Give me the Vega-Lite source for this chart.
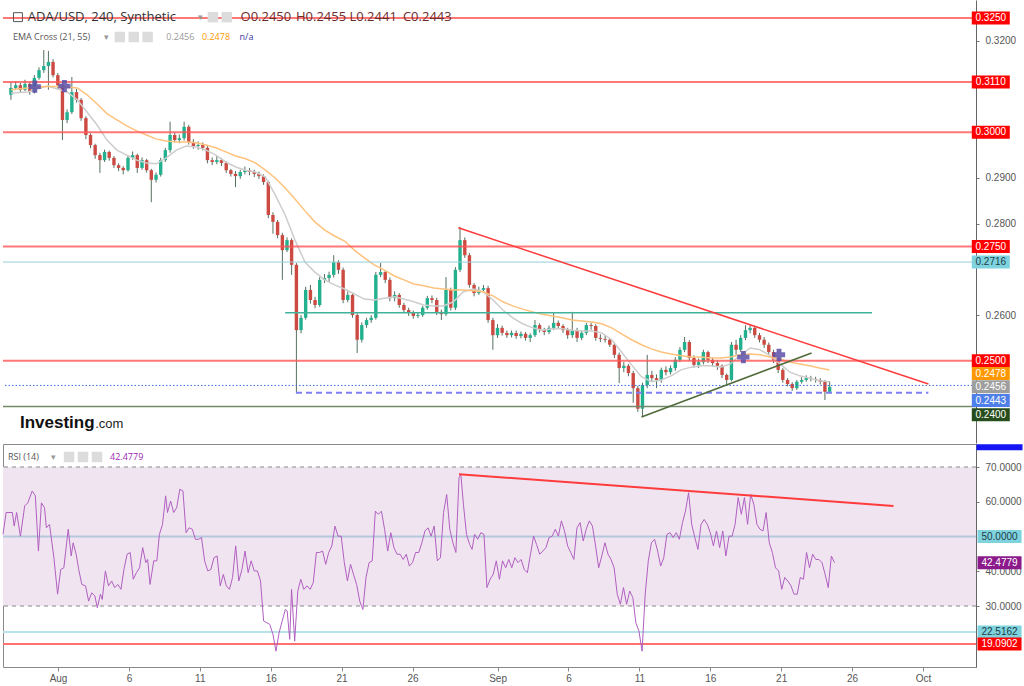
{
"$schema":"https://vega.github.io/schema/vega-lite/v6.json",
"padding":0,
"spacing":0,
"background":"#ffffff",
"config":{"view":{"stroke":null},"font":"Liberation Sans","axis":{"grid":false,"title":null}},
"datasets":{
"candles":[
{"d":-3.67,"o":0.3082,"h":0.311,"l":0.3071,"c":0.3097},
{"d":-3.33,"o":0.3097,"h":0.3112,"l":0.3092,"c":0.3103},
{"d":-3,"o":0.3103,"h":0.3108,"l":0.3088,"c":0.3093},
{"d":-2.67,"o":0.3093,"h":0.3115,"l":0.309,"c":0.3106},
{"d":-2.33,"o":0.3106,"h":0.311,"l":0.3082,"c":0.3088},
{"d":-2,"o":0.3088,"h":0.3125,"l":0.3085,"c":0.3119},
{"d":-1.67,"o":0.3119,"h":0.3142,"l":0.3115,"c":0.3136},
{"d":-1.33,"o":0.3136,"h":0.318,"l":0.313,"c":0.3145},
{"d":-1,"o":0.3145,"h":0.3178,"l":0.3093,"c":0.3154},
{"d":-0.67,"o":0.3154,"h":0.316,"l":0.312,"c":0.3125},
{"d":-0.33,"o":0.3125,"h":0.313,"l":0.3095,"c":0.3103},
{"d":0,"o":0.3103,"h":0.3108,"l":0.2983,"c":0.3027},
{"d":0.33,"o":0.3027,"h":0.305,"l":0.302,"c":0.3044},
{"d":0.67,"o":0.3044,"h":0.3121,"l":0.304,"c":0.3088},
{"d":1,"o":0.3088,"h":0.3095,"l":0.3065,"c":0.3071},
{"d":1.33,"o":0.3071,"h":0.3075,"l":0.3025,"c":0.3031},
{"d":1.67,"o":0.3031,"h":0.3035,"l":0.2985,"c":0.2994},
{"d":2,"o":0.2994,"h":0.2998,"l":0.2965,"c":0.2972},
{"d":2.33,"o":0.2972,"h":0.2975,"l":0.2942,"c":0.295},
{"d":2.67,"o":0.295,"h":0.2955,"l":0.2911,"c":0.2939},
{"d":3,"o":0.2939,"h":0.2962,"l":0.2935,"c":0.2957},
{"d":3.33,"o":0.2957,"h":0.296,"l":0.2938,"c":0.2944},
{"d":3.67,"o":0.2944,"h":0.2948,"l":0.2922,"c":0.2928},
{"d":4,"o":0.2928,"h":0.2932,"l":0.2915,"c":0.2922},
{"d":4.33,"o":0.2922,"h":0.2926,"l":0.2908,"c":0.2917},
{"d":4.67,"o":0.2917,"h":0.295,"l":0.2914,"c":0.2944},
{"d":5,"o":0.2944,"h":0.2958,"l":0.294,"c":0.295},
{"d":5.33,"o":0.295,"h":0.2953,"l":0.2911,"c":0.2922},
{"d":5.67,"o":0.2922,"h":0.2945,"l":0.2918,"c":0.2939},
{"d":6,"o":0.2939,"h":0.2942,"l":0.2912,"c":0.2917},
{"d":6.33,"o":0.2917,"h":0.292,"l":0.2847,"c":0.2896},
{"d":6.67,"o":0.2896,"h":0.2912,"l":0.289,"c":0.2907},
{"d":7,"o":0.2907,"h":0.2944,"l":0.2903,"c":0.2939},
{"d":7.33,"o":0.2939,"h":0.2966,"l":0.2935,"c":0.2961},
{"d":7.67,"o":0.2961,"h":0.3023,"l":0.2955,"c":0.2994},
{"d":8,"o":0.2994,"h":0.3,"l":0.2978,"c":0.2983},
{"d":8.33,"o":0.2983,"h":0.2995,"l":0.2976,"c":0.2987},
{"d":8.67,"o":0.2987,"h":0.3023,"l":0.2982,"c":0.3012},
{"d":9,"o":0.3012,"h":0.3016,"l":0.2973,"c":0.2979},
{"d":9.33,"o":0.2979,"h":0.2985,"l":0.2964,"c":0.297},
{"d":9.67,"o":0.297,"h":0.298,"l":0.2962,"c":0.2972},
{"d":10,"o":0.2972,"h":0.2978,"l":0.296,"c":0.2966},
{"d":10.33,"o":0.2966,"h":0.297,"l":0.2932,"c":0.2939},
{"d":10.67,"o":0.2939,"h":0.2945,"l":0.2928,"c":0.2935},
{"d":11,"o":0.2935,"h":0.2948,"l":0.293,"c":0.2939},
{"d":11.33,"o":0.2939,"h":0.2944,"l":0.2926,"c":0.2933},
{"d":11.67,"o":0.2933,"h":0.2937,"l":0.2911,"c":0.2917},
{"d":12,"o":0.2917,"h":0.292,"l":0.2903,"c":0.2909},
{"d":12.33,"o":0.2909,"h":0.2915,"l":0.288,"c":0.2904},
{"d":12.67,"o":0.2904,"h":0.2918,"l":0.2898,"c":0.2913},
{"d":13,"o":0.2913,"h":0.2925,"l":0.2908,"c":0.2917},
{"d":13.33,"o":0.2917,"h":0.2922,"l":0.2906,"c":0.2913},
{"d":13.67,"o":0.2913,"h":0.2918,"l":0.2902,"c":0.2909},
{"d":14,"o":0.2909,"h":0.2914,"l":0.2898,"c":0.2904},
{"d":14.33,"o":0.2904,"h":0.2908,"l":0.2885,"c":0.2891},
{"d":14.67,"o":0.2891,"h":0.2894,"l":0.2812,"c":0.2819},
{"d":15,"o":0.2819,"h":0.2825,"l":0.2778,"c":0.2804},
{"d":15.33,"o":0.2804,"h":0.2808,"l":0.2768,"c":0.2775},
{"d":15.67,"o":0.2775,"h":0.278,"l":0.2677,"c":0.2742},
{"d":16,"o":0.2742,"h":0.277,"l":0.2738,"c":0.2764},
{"d":16.33,"o":0.2764,"h":0.2768,"l":0.2688,"c":0.271},
{"d":16.67,"o":0.271,"h":0.2714,"l":0.243,"c":0.2567},
{"d":17,"o":0.2567,"h":0.26,"l":0.256,"c":0.2594},
{"d":17.33,"o":0.2594,"h":0.2662,"l":0.259,"c":0.2655},
{"d":17.67,"o":0.2655,"h":0.2666,"l":0.2625,"c":0.2633},
{"d":18,"o":0.2633,"h":0.264,"l":0.2615,"c":0.2622},
{"d":18.33,"o":0.2622,"h":0.2683,"l":0.2618,"c":0.2677},
{"d":18.67,"o":0.2677,"h":0.269,"l":0.267,"c":0.2681},
{"d":19,"o":0.2681,"h":0.2695,"l":0.2672,"c":0.2688},
{"d":19.33,"o":0.2688,"h":0.2731,"l":0.2682,"c":0.2716},
{"d":19.67,"o":0.2716,"h":0.272,"l":0.269,"c":0.2699},
{"d":20,"o":0.2699,"h":0.2704,"l":0.2626,"c":0.2633},
{"d":20.33,"o":0.2633,"h":0.2652,"l":0.2628,"c":0.2644},
{"d":20.67,"o":0.2644,"h":0.2648,"l":0.2594,"c":0.26},
{"d":21,"o":0.26,"h":0.2604,"l":0.2517,"c":0.2546},
{"d":21.33,"o":0.2546,"h":0.2584,"l":0.254,"c":0.2578},
{"d":21.67,"o":0.2578,"h":0.2594,"l":0.2572,"c":0.2589},
{"d":22,"o":0.2589,"h":0.26,"l":0.2583,"c":0.2594},
{"d":22.33,"o":0.2594,"h":0.2694,"l":0.259,"c":0.2688},
{"d":22.67,"o":0.2688,"h":0.2714,"l":0.2683,"c":0.2694},
{"d":23,"o":0.2694,"h":0.2698,"l":0.267,"c":0.2677},
{"d":23.33,"o":0.2677,"h":0.2682,"l":0.263,"c":0.2637},
{"d":23.67,"o":0.2637,"h":0.2652,"l":0.263,"c":0.2644},
{"d":24,"o":0.2644,"h":0.2648,"l":0.2616,"c":0.2622},
{"d":24.33,"o":0.2622,"h":0.2627,"l":0.2605,"c":0.2611},
{"d":24.67,"o":0.2611,"h":0.2616,"l":0.2598,"c":0.2605},
{"d":25,"o":0.2605,"h":0.261,"l":0.2592,"c":0.2598},
{"d":25.33,"o":0.2598,"h":0.2606,"l":0.2594,"c":0.26},
{"d":25.67,"o":0.26,"h":0.262,"l":0.2596,"c":0.2616},
{"d":26,"o":0.2616,"h":0.2642,"l":0.2612,"c":0.2637},
{"d":26.33,"o":0.2637,"h":0.2643,"l":0.2626,"c":0.2633},
{"d":26.67,"o":0.2633,"h":0.2638,"l":0.26,"c":0.2607},
{"d":27,"o":0.2607,"h":0.2612,"l":0.2589,"c":0.2602},
{"d":27.33,"o":0.2602,"h":0.2683,"l":0.2598,"c":0.2655},
{"d":27.67,"o":0.2655,"h":0.266,"l":0.261,"c":0.2616},
{"d":28,"o":0.2616,"h":0.2705,"l":0.2611,"c":0.2699},
{"d":28.33,"o":0.2699,"h":0.2793,"l":0.2694,"c":0.2764},
{"d":28.67,"o":0.2764,"h":0.277,"l":0.2725,"c":0.2731},
{"d":29,"o":0.2731,"h":0.2736,"l":0.266,"c":0.2666},
{"d":29.33,"o":0.2666,"h":0.267,"l":0.2641,"c":0.2648},
{"d":29.67,"o":0.2648,"h":0.2662,"l":0.2644,"c":0.2655},
{"d":30,"o":0.2655,"h":0.2666,"l":0.265,"c":0.2659},
{"d":30.33,"o":0.2659,"h":0.2664,"l":0.2583,"c":0.2589},
{"d":30.67,"o":0.2589,"h":0.2594,"l":0.2524,"c":0.2556},
{"d":31,"o":0.2556,"h":0.258,"l":0.255,"c":0.2572},
{"d":31.33,"o":0.2572,"h":0.2577,"l":0.2555,"c":0.2561},
{"d":31.67,"o":0.2561,"h":0.2566,"l":0.255,"c":0.2556},
{"d":32,"o":0.2556,"h":0.2566,"l":0.2551,"c":0.2561},
{"d":32.33,"o":0.2561,"h":0.2566,"l":0.2548,"c":0.2554},
{"d":32.67,"o":0.2554,"h":0.2564,"l":0.2549,"c":0.2559},
{"d":33,"o":0.2559,"h":0.2563,"l":0.2544,"c":0.255},
{"d":33.33,"o":0.255,"h":0.256,"l":0.2541,"c":0.2556},
{"d":33.67,"o":0.2556,"h":0.2589,"l":0.2552,"c":0.2578},
{"d":34,"o":0.2578,"h":0.2582,"l":0.2562,"c":0.2567},
{"d":34.33,"o":0.2567,"h":0.2572,"l":0.2556,"c":0.2563},
{"d":34.67,"o":0.2563,"h":0.2577,"l":0.2558,"c":0.2572},
{"d":35,"o":0.2572,"h":0.2605,"l":0.2567,"c":0.2583},
{"d":35.33,"o":0.2583,"h":0.2588,"l":0.257,"c":0.2576},
{"d":35.67,"o":0.2576,"h":0.258,"l":0.2561,"c":0.2567},
{"d":36,"o":0.2567,"h":0.2572,"l":0.2548,"c":0.2556},
{"d":36.33,"o":0.2556,"h":0.2607,"l":0.255,"c":0.2567},
{"d":36.67,"o":0.2567,"h":0.2572,"l":0.2541,"c":0.255},
{"d":37,"o":0.255,"h":0.2566,"l":0.2545,"c":0.2561},
{"d":37.33,"o":0.2561,"h":0.2583,"l":0.2556,"c":0.2578},
{"d":37.67,"o":0.2578,"h":0.2583,"l":0.2568,"c":0.2576},
{"d":38,"o":0.2576,"h":0.258,"l":0.2544,"c":0.255},
{"d":38.33,"o":0.255,"h":0.2558,"l":0.2541,"c":0.2548},
{"d":38.67,"o":0.2548,"h":0.2556,"l":0.254,"c":0.2546},
{"d":39,"o":0.2546,"h":0.255,"l":0.253,"c":0.2535},
{"d":39.33,"o":0.2535,"h":0.254,"l":0.2506,"c":0.2513},
{"d":39.67,"o":0.2513,"h":0.2518,"l":0.2451,"c":0.2484},
{"d":40,"o":0.2484,"h":0.2497,"l":0.2475,"c":0.2489},
{"d":40.33,"o":0.2489,"h":0.2493,"l":0.2466,"c":0.2473},
{"d":40.67,"o":0.2473,"h":0.2478,"l":0.2408,"c":0.244},
{"d":41,"o":0.244,"h":0.2445,"l":0.2388,"c":0.2395},
{"d":41.33,"o":0.2395,"h":0.2452,"l":0.2377,"c":0.2447},
{"d":41.67,"o":0.2447,"h":0.2513,"l":0.244,"c":0.2469},
{"d":42,"o":0.2469,"h":0.2478,"l":0.2455,"c":0.2462},
{"d":42.33,"o":0.2462,"h":0.247,"l":0.244,"c":0.2458},
{"d":42.67,"o":0.2458,"h":0.2485,"l":0.2452,"c":0.248},
{"d":43,"o":0.248,"h":0.2488,"l":0.2468,"c":0.2475},
{"d":43.33,"o":0.2475,"h":0.249,"l":0.247,"c":0.2484},
{"d":43.67,"o":0.2484,"h":0.2508,"l":0.2478,"c":0.2502},
{"d":44,"o":0.2502,"h":0.253,"l":0.2497,"c":0.2524},
{"d":44.33,"o":0.2524,"h":0.2552,"l":0.2519,"c":0.2541},
{"d":44.67,"o":0.2541,"h":0.2545,"l":0.25,"c":0.2506},
{"d":45,"o":0.2506,"h":0.2512,"l":0.2485,"c":0.2491},
{"d":45.33,"o":0.2491,"h":0.2505,"l":0.2484,"c":0.2497},
{"d":45.67,"o":0.2497,"h":0.2524,"l":0.2492,"c":0.2519},
{"d":46,"o":0.2519,"h":0.2522,"l":0.2495,"c":0.2502},
{"d":46.33,"o":0.2502,"h":0.2508,"l":0.2488,"c":0.2495},
{"d":46.67,"o":0.2495,"h":0.25,"l":0.248,"c":0.2489},
{"d":47,"o":0.2489,"h":0.2492,"l":0.2462,"c":0.2469},
{"d":47.33,"o":0.2469,"h":0.2472,"l":0.2447,"c":0.2458},
{"d":47.67,"o":0.2458,"h":0.2541,"l":0.2455,"c":0.2535},
{"d":48,"o":0.2535,"h":0.2546,"l":0.2513,"c":0.2524},
{"d":48.33,"o":0.2524,"h":0.2556,"l":0.2519,"c":0.255},
{"d":48.67,"o":0.255,"h":0.2578,"l":0.2545,"c":0.2567},
{"d":49,"o":0.2567,"h":0.2578,"l":0.256,"c":0.2572},
{"d":49.33,"o":0.2572,"h":0.2575,"l":0.255,"c":0.2556},
{"d":49.67,"o":0.2556,"h":0.2561,"l":0.254,"c":0.2546},
{"d":50,"o":0.2546,"h":0.2552,"l":0.2528,"c":0.2535},
{"d":50.33,"o":0.2535,"h":0.254,"l":0.2513,"c":0.2519},
{"d":50.67,"o":0.2519,"h":0.2524,"l":0.2495,"c":0.2502},
{"d":51,"o":0.2502,"h":0.2506,"l":0.2473,"c":0.248},
{"d":51.33,"o":0.248,"h":0.2484,"l":0.2452,"c":0.2458},
{"d":51.67,"o":0.2458,"h":0.2462,"l":0.2444,"c":0.2449},
{"d":52,"o":0.2449,"h":0.2453,"l":0.2434,"c":0.244},
{"d":52.33,"o":0.244,"h":0.2458,"l":0.2436,"c":0.2454},
{"d":52.67,"o":0.2454,"h":0.2464,"l":0.245,"c":0.2458},
{"d":53,"o":0.2458,"h":0.2468,"l":0.2454,"c":0.2462},
{"d":53.33,"o":0.2462,"h":0.2467,"l":0.2455,"c":0.246},
{"d":53.67,"o":0.246,"h":0.2465,"l":0.2452,"c":0.2458},
{"d":54,"o":0.2458,"h":0.2462,"l":0.2448,"c":0.2454},
{"d":54.33,"o":0.2454,"h":0.2458,"l":0.2414,"c":0.2432},
{"d":54.67,"o":0.2432,"h":0.2455,"l":0.2428,"c":0.2443}
],
"ema":[
{"d":-3.67,"e1":0.3086,"e2":0.3093},{"d":-2.47,"e1":0.3088,"e2":0.3097},{"d":-1.06,"e1":0.3101,"e2":0.3101},{"d":0.35,"e1":0.3088,"e2":0.3099},
{"d":1.06,"e1":0.3071,"e2":0.3097},{"d":1.76,"e1":0.3044,"e2":0.3082},{"d":2.47,"e1":0.3016,"e2":0.3062},{"d":3.17,"e1":0.2983,"e2":0.3041},
{"d":3.88,"e1":0.2961,"e2":0.3027},{"d":4.58,"e1":0.295,"e2":0.3014},{"d":5.29,"e1":0.2939,"e2":0.3003},{"d":5.99,"e1":0.2933,"e2":0.2994},
{"d":6.7,"e1":0.2931,"e2":0.2985},{"d":7.4,"e1":0.2944,"e2":0.2981},{"d":8.11,"e1":0.2961,"e2":0.2979},{"d":8.82,"e1":0.297,"e2":0.2979},
{"d":9.52,"e1":0.2968,"e2":0.2977},{"d":10.23,"e1":0.2961,"e2":0.2972},{"d":10.93,"e1":0.295,"e2":0.2966},{"d":11.64,"e1":0.2935,"e2":0.2957},
{"d":12.34,"e1":0.2924,"e2":0.2948},{"d":13.05,"e1":0.2917,"e2":0.2942},{"d":13.75,"e1":0.2913,"e2":0.2933},{"d":14.46,"e1":0.2902,"e2":0.2917},
{"d":15.16,"e1":0.2863,"e2":0.29},{"d":15.87,"e1":0.2819,"e2":0.2878},{"d":16.57,"e1":0.2764,"e2":0.2854},{"d":17.28,"e1":0.2716,"e2":0.2828},
{"d":17.98,"e1":0.2694,"e2":0.2804},{"d":18.69,"e1":0.2677,"e2":0.2786},{"d":19.39,"e1":0.2666,"e2":0.2773},{"d":20.1,"e1":0.2657,"e2":0.2762},
{"d":20.8,"e1":0.2646,"e2":0.2742},{"d":21.51,"e1":0.2635,"e2":0.2725},{"d":22.21,"e1":0.2633,"e2":0.271},{"d":22.92,"e1":0.2637,"e2":0.2699},
{"d":23.62,"e1":0.264,"e2":0.2686},{"d":24.33,"e1":0.2635,"e2":0.2677},{"d":25.04,"e1":0.2629,"e2":0.2668},{"d":25.74,"e1":0.2622,"e2":0.2664},
{"d":26.45,"e1":0.262,"e2":0.2659},{"d":27.15,"e1":0.262,"e2":0.2657},{"d":27.86,"e1":0.2629,"e2":0.2655},{"d":28.56,"e1":0.2651,"e2":0.2655},
{"d":29.27,"e1":0.2657,"e2":0.2653},{"d":29.97,"e1":0.2651,"e2":0.2651},{"d":30.68,"e1":0.2633,"e2":0.2642},{"d":31.38,"e1":0.2611,"e2":0.2629},
{"d":32.09,"e1":0.2594,"e2":0.262},{"d":32.79,"e1":0.2581,"e2":0.2613},{"d":33.5,"e1":0.2572,"e2":0.2607},{"d":34.2,"e1":0.2567,"e2":0.2602},
{"d":34.91,"e1":0.257,"e2":0.2598},{"d":35.61,"e1":0.257,"e2":0.2594},{"d":36.32,"e1":0.2567,"e2":0.2589},{"d":37.02,"e1":0.2565,"e2":0.2587},
{"d":37.73,"e1":0.2565,"e2":0.2585},{"d":38.43,"e1":0.2561,"e2":0.2581},{"d":39.14,"e1":0.2546,"e2":0.2572},{"d":39.84,"e1":0.2519,"e2":0.2559},
{"d":40.55,"e1":0.2491,"e2":0.2546},{"d":41.26,"e1":0.2465,"e2":0.2535},{"d":41.96,"e1":0.2454,"e2":0.2526},{"d":42.67,"e1":0.2458,"e2":0.2519},
{"d":43.37,"e1":0.2467,"e2":0.2515},{"d":44.08,"e1":0.248,"e2":0.2511},{"d":44.78,"e1":0.2486,"e2":0.2508},{"d":45.49,"e1":0.2489,"e2":0.2508},
{"d":46.19,"e1":0.2489,"e2":0.2506},{"d":46.9,"e1":0.2486,"e2":0.2506},{"d":47.6,"e1":0.2493,"e2":0.2508},{"d":48.31,"e1":0.2513,"e2":0.2513},
{"d":49.01,"e1":0.2528,"e2":0.2515},{"d":49.72,"e1":0.2524,"e2":0.2513},{"d":50.42,"e1":0.2511,"e2":0.2508},{"d":51.13,"e1":0.2493,"e2":0.2504},
{"d":51.83,"e1":0.2475,"e2":0.2497},{"d":52.54,"e1":0.2467,"e2":0.2493},{"d":53.24,"e1":0.2462,"e2":0.2489},{"d":53.95,"e1":0.2456,"e2":0.2484},
{"d":54.65,"e1":0.2454,"e2":0.248}
],
"rsi":[
{"d":-3.88,"r":50.6},{"d":-3.66,"r":56.9},{"d":-3.22,"r":56.9},{"d":-3.09,"r":53},{"d":-2.92,"r":56.9},{"d":-2.65,"r":50.1},{"d":-2.35,"r":58.8},{"d":-2.13,"r":59.7},
{"d":-1.82,"r":63.1},{"d":-1.6,"r":61.7},{"d":-1.38,"r":45.8},{"d":-1.17,"r":59.7},{"d":-0.95,"r":58.3},{"d":-0.82,"r":52.5},{"d":-0.6,"r":53.5},{"d":-0.29,"r":43.9},
{"d":-0.03,"r":33.4},{"d":0.19,"r":40.5},{"d":0.41,"r":41},{"d":0.72,"r":52.1},{"d":0.93,"r":44.4},{"d":1.07,"r":48.2},{"d":1.28,"r":44.9},{"d":1.46,"r":40.5},
{"d":1.68,"r":36.2},{"d":1.94,"r":35.8},{"d":2.16,"r":31.4},{"d":2.38,"r":33.8},{"d":2.6,"r":32.9},{"d":2.77,"r":29.5},{"d":2.99,"r":33.4},{"d":3.12,"r":31.9},
{"d":3.34,"r":40.1},{"d":3.56,"r":35.8},{"d":3.78,"r":37.2},{"d":4,"r":35.3},{"d":4.22,"r":36.2},{"d":4.44,"r":34.8},{"d":4.65,"r":40.5},{"d":4.87,"r":44.9},
{"d":5.09,"r":45.4},{"d":5.31,"r":37.7},{"d":5.53,"r":39.6},{"d":5.75,"r":41},{"d":5.97,"r":46.8},{"d":6.19,"r":42.5},{"d":6.32,"r":43.4},{"d":6.49,"r":36.2},
{"d":6.75,"r":43},{"d":6.97,"r":43},{"d":7.15,"r":50.6},{"d":7.37,"r":53.5},{"d":7.59,"r":61.7},{"d":7.72,"r":56.9},{"d":7.94,"r":60.2},{"d":8.16,"r":56.9},
{"d":8.37,"r":58.3},{"d":8.59,"r":63.6},{"d":8.81,"r":63.1},{"d":9.03,"r":51.1},{"d":9.25,"r":52.5},{"d":9.47,"r":52.1},{"d":9.69,"r":49.2},{"d":9.91,"r":49.2},
{"d":10.12,"r":49.7},{"d":10.34,"r":43},{"d":10.56,"r":40.1},{"d":10.78,"r":40.5},{"d":11,"r":43.9},{"d":11.22,"r":44.4},{"d":11.44,"r":35.8},{"d":11.66,"r":39.1},
{"d":11.87,"r":35.8},{"d":12.09,"r":34.8},{"d":12.31,"r":38.2},{"d":12.53,"r":47.3},{"d":12.75,"r":37.2},{"d":12.97,"r":40.5},{"d":13.19,"r":45.8},{"d":13.41,"r":39.6},
{"d":13.62,"r":43},{"d":13.84,"r":40.1},{"d":14.06,"r":40.1},{"d":14.28,"r":37.2},{"d":14.5,"r":25.7},{"d":14.72,"r":25.2},{"d":14.94,"r":24.7},{"d":15.16,"r":21.8},
{"d":15.37,"r":17},{"d":15.59,"r":22.3},{"d":15.81,"r":25.7},{"d":16.03,"r":29},{"d":16.16,"r":28.6},{"d":16.34,"r":20.4},{"d":16.47,"r":34.8},{"d":16.69,"r":19.9},
{"d":16.91,"r":34.3},{"d":17.12,"r":37.7},{"d":17.34,"r":34.8},{"d":17.56,"r":35.8},{"d":17.78,"r":34.8},{"d":18,"r":36.7},{"d":18.22,"r":45.4},{"d":18.44,"r":45.4},
{"d":18.66,"r":45.8},{"d":18.88,"r":42},{"d":19.09,"r":45.4},{"d":19.31,"r":47.3},{"d":19.53,"r":53},{"d":19.75,"r":50.1},{"d":19.97,"r":50.1},{"d":20.19,"r":42.5},
{"d":20.41,"r":37.2},{"d":20.63,"r":42},{"d":20.84,"r":39.1},{"d":21.06,"r":36.2},{"d":21.28,"r":31.4},{"d":21.5,"r":29},{"d":21.72,"r":38.2},{"d":21.94,"r":42.5},
{"d":22.16,"r":43},{"d":22.38,"r":57.3},{"d":22.59,"r":56.4},{"d":22.81,"r":57.3},{"d":23.03,"r":52.1},{"d":23.25,"r":45.8},{"d":23.47,"r":51.1},{"d":23.69,"r":46.8},
{"d":23.91,"r":44.9},{"d":24.13,"r":44.9},{"d":24.34,"r":43.4},{"d":24.56,"r":44.9},{"d":24.78,"r":41.5},{"d":25,"r":42.5},{"d":25.22,"r":45.4},{"d":25.44,"r":45.4},
{"d":25.66,"r":48.2},{"d":25.88,"r":51.6},{"d":26.1,"r":52.5},{"d":26.31,"r":50.1},{"d":26.53,"r":53},{"d":26.75,"r":43},{"d":26.97,"r":43.9},{"d":27.19,"r":56.9},
{"d":27.41,"r":62.1},{"d":27.63,"r":52.1},{"d":27.85,"r":48.2},{"d":28.06,"r":45.4},{"d":28.28,"r":66.9},{"d":28.41,"r":67.9},{"d":28.59,"r":59.3},{"d":28.81,"r":50.6},
{"d":29.03,"r":47.7},{"d":29.2,"r":46.3},{"d":29.38,"r":50.6},{"d":29.6,"r":49.2},{"d":29.82,"r":51.1},{"d":30.04,"r":50.6},{"d":30.25,"r":35.3},{"d":30.47,"r":37.7},
{"d":30.69,"r":39.1},{"d":30.91,"r":43},{"d":31.13,"r":37.7},{"d":31.35,"r":43},{"d":31.57,"r":41},{"d":31.79,"r":43.4},{"d":32,"r":41},{"d":32.22,"r":43.9},
{"d":32.44,"r":42.5},{"d":32.66,"r":43.4},{"d":32.88,"r":40.5},{"d":33.1,"r":39.6},{"d":33.32,"r":44.9},{"d":33.54,"r":50.1},{"d":33.75,"r":47.7},{"d":33.97,"r":44.9},
{"d":34.19,"r":45.8},{"d":34.41,"r":46.8},{"d":34.63,"r":49.7},{"d":34.85,"r":50.1},{"d":35.07,"r":52.1},{"d":35.29,"r":50.1},{"d":35.5,"r":54.5},{"d":35.72,"r":51.6},
{"d":35.94,"r":47.3},{"d":36.16,"r":45.4},{"d":36.38,"r":43.4},{"d":36.6,"r":52.5},{"d":36.82,"r":54},{"d":37.04,"r":48.7},{"d":37.25,"r":52.1},{"d":37.47,"r":54.5},
{"d":37.69,"r":53},{"d":37.91,"r":47.3},{"d":38.13,"r":41},{"d":38.35,"r":44.4},{"d":38.57,"r":48.2},{"d":38.79,"r":44.9},{"d":39,"r":43.4},{"d":39.22,"r":41},
{"d":39.44,"r":33.4},{"d":39.66,"r":30.5},{"d":39.88,"r":35.3},{"d":40.1,"r":30.5},{"d":40.32,"r":34.3},{"d":40.54,"r":32.4},{"d":40.75,"r":25.2},{"d":40.97,"r":22.8},
{"d":41.19,"r":17},{"d":41.41,"r":33.4},{"d":41.63,"r":43},{"d":41.85,"r":48.2},{"d":42.07,"r":49.2},{"d":42.29,"r":45.8},{"d":42.5,"r":41.5},{"d":42.72,"r":43.9},
{"d":42.94,"r":50.6},{"d":43.16,"r":51.1},{"d":43.38,"r":49.7},{"d":43.6,"r":51.1},{"d":43.82,"r":49.2},{"d":44.04,"r":54},{"d":44.25,"r":57.3},{"d":44.47,"r":62.6},
{"d":44.69,"r":53.5},{"d":44.91,"r":49.7},{"d":45.13,"r":46.3},{"d":45.35,"r":53.5},{"d":45.57,"r":54.9},{"d":45.79,"r":53.5},{"d":46,"r":51.1},{"d":46.22,"r":47.3},
{"d":46.44,"r":51.6},{"d":46.66,"r":46.8},{"d":46.88,"r":51.6},{"d":47.1,"r":44.4},{"d":47.32,"r":50.1},{"d":47.54,"r":50.1},{"d":47.75,"r":53.5},{"d":47.97,"r":61.2},
{"d":48.19,"r":56.4},{"d":48.41,"r":61.2},{"d":48.63,"r":53.5},{"d":48.85,"r":62.1},{"d":49.07,"r":59.3},{"d":49.29,"r":53.5},{"d":49.5,"r":52.1},{"d":49.72,"r":51.6},
{"d":49.94,"r":56.9},{"d":50.16,"r":48.2},{"d":50.38,"r":45.4},{"d":50.6,"r":41},{"d":50.82,"r":40.1},{"d":51.04,"r":34.8},{"d":51.25,"r":38.2},{"d":51.47,"r":37.2},
{"d":51.69,"r":35.8},{"d":51.91,"r":33.4},{"d":52.13,"r":33.4},{"d":52.35,"r":38.2},{"d":52.57,"r":37.7},{"d":52.79,"r":45.4},{"d":53,"r":41},{"d":53.22,"r":44.9},
{"d":53.44,"r":43.4},{"d":53.66,"r":43.4},{"d":53.88,"r":42.5},{"d":54.1,"r":39.1},{"d":54.32,"r":35.3},{"d":54.54,"r":44.4},{"d":54.76,"r":42.48}
],
"pbox":[
{"at":0.325,"t":"0.3250","k":"red"},{"at":0.311,"t":"0.3110","k":"red"},{"at":0.3,"t":"0.3000","k":"red"},{"at":0.275,"t":"0.2750","k":"red"},
{"at":0.2716,"t":"0.2716","k":"teal"},{"at":0.25,"t":"0.2500","k":"red"},{"at":0.2472,"t":"0.2478","k":"orange"},{"at":0.2443,"t":"0.2456","k":"grey"},
{"at":0.2413,"t":"0.2443","k":"blue"},{"at":0.2382,"t":"0.2400","k":"green"}
],
"rbox":[
{"at":50,"t":"50.0000","k":"teal"},{"at":42.48,"t":"42.4779","k":"purple"},{"at":22.52,"t":"22.5162","k":"teal"},{"at":19.09,"t":"19.0902","k":"red"}
]
},
"vconcat":[
{"width":973,"height":443,
"layer":[
{"data":{"name":"candles"},"mark":{"type":"rule","color":"#56705f","strokeWidth":1},
 "encoding":{"x":{"field":"d","type":"quantitative","scale":{"domain":[-3.88,64.74],"nice":false,"zero":false},"axis":null},
 "y":{"field":"l","type":"quantitative","title":null,"scale":{"domain":[0.232,0.32895],"nice":false,"zero":false},
  "axis":{"orient":"right","values":[0.26,0.28,0.29,0.32],"format":".4f","title":null,"grid":false,"labelFont":"Liberation Sans","labelFontSize":10,"labelColor":"#555","tickColor":"#777","tickSize":3,"domain":true,"domainColor":"#666","labelPadding":6}},
 "y2":{"field":"h"}}},
{"data":{"name":"candles"},"mark":{"type":"bar","size":3.4},
 "encoding":{"x":{"field":"d","type":"quantitative","scale":{"domain":[-3.88,64.74],"nice":false,"zero":false},"axis":null},
 "y":{"field":"o","type":"quantitative","title":null,"scale":{"domain":[0.232,0.32895],"nice":false,"zero":false}},
 "y2":{"field":"c"},
 "color":{"condition":{"test":"datum.c >= datum.o","value":"#22b08e"},"value":"#cc4a42"}}},
{"data":{"name":"ema"},"mark":{"type":"line","color":"#cdcdcd","strokeWidth":1.5},
 "encoding":{"x":{"field":"d","type":"quantitative","scale":{"domain":[-3.88,64.74],"nice":false,"zero":false},"axis":null},
 "y":{"field":"e1","type":"quantitative","title":null,"scale":{"domain":[0.232,0.32895],"nice":false,"zero":false}}}},
{"data":{"name":"ema"},"mark":{"type":"line","color":"#ffc27d","strokeWidth":1.5},
 "encoding":{"x":{"field":"d","type":"quantitative","scale":{"domain":[-3.88,64.74],"nice":false,"zero":false},"axis":null},
 "y":{"field":"e2","type":"quantitative","title":null,"scale":{"domain":[0.232,0.32895],"nice":false,"zero":false}}}},
{"data":{"values":[{"p":0.325},{"p":0.311},{"p":0.3},{"p":0.275},{"p":0.25}]},"mark":{"type":"rule","color":"#ff5555","strokeWidth":2,"opacity":0.8},
 "encoding":{"y":{"field":"p","type":"quantitative","title":null,"scale":{"domain":[0.232,0.32895],"nice":false,"zero":false}}}},
{"data":{"values":[{"p":0.2716}]},"mark":{"type":"rule","color":"#96d0dc","strokeWidth":1},
 "encoding":{"y":{"field":"p","type":"quantitative","title":null,"scale":{"domain":[0.232,0.32895],"nice":false,"zero":false}}}},
{"data":{"values":[{"p":0.24}]},"mark":{"type":"rule","color":"#74896a","strokeWidth":1.5},
 "encoding":{"y":{"field":"p","type":"quantitative","title":null,"scale":{"domain":[0.232,0.32895],"nice":false,"zero":false}}}},
{"data":{"values":[{"p":0.2446}]},"mark":{"type":"rule","color":"#3b6de0","strokeWidth":1,"strokeDash":[1.5,2]},
 "encoding":{"y":{"field":"p","type":"quantitative","title":null,"scale":{"domain":[0.232,0.32895],"nice":false,"zero":false}}}},
{"data":{"values":[{"d1":15.87,"d2":57.69,"p1":0.2605,"p2":0.2605}]},"mark":{"type":"rule","color":"#40b39a","strokeWidth":1.5},
 "encoding":{"x":{"field":"d1","type":"quantitative","scale":{"domain":[-3.88,64.74],"nice":false,"zero":false},"axis":null},"x2":{"field":"d2"},
 "y":{"field":"p1","type":"quantitative","title":null,"scale":{"domain":[0.232,0.32895],"nice":false,"zero":false}},"y2":{"field":"p2"}}},
{"data":{"values":[{"d1":16.64,"d2":61.7,"p1":0.243,"p2":0.243}]},"mark":{"type":"rule","color":"#7f7ff2","strokeWidth":2,"strokeDash":[6,4]},
 "encoding":{"x":{"field":"d1","type":"quantitative","scale":{"domain":[-3.88,64.74],"nice":false,"zero":false},"axis":null},"x2":{"field":"d2"},
 "y":{"field":"p1","type":"quantitative","title":null,"scale":{"domain":[0.232,0.32895],"nice":false,"zero":false}},"y2":{"field":"p2"}}},
{"data":{"values":[{"d1":28.21,"d2":61.71,"p1":0.2791,"p2":0.2449}]},"mark":{"type":"rule","color":"#ff3b3b","strokeWidth":1.5},
 "encoding":{"x":{"field":"d1","type":"quantitative","scale":{"domain":[-3.88,64.74],"nice":false,"zero":false},"axis":null},"x2":{"field":"d2"},
 "y":{"field":"p1","type":"quantitative","title":null,"scale":{"domain":[0.232,0.32895],"nice":false,"zero":false}},"y2":{"field":"p2"}}},
{"data":{"values":[{"d1":41.26,"d2":53.38,"p1":0.2377,"p2":0.2517}]},"mark":{"type":"rule","color":"#4f6b3a","strokeWidth":1.5},
 "encoding":{"x":{"field":"d1","type":"quantitative","scale":{"domain":[-3.88,64.74],"nice":false,"zero":false},"axis":null},"x2":{"field":"d2"},
 "y":{"field":"p1","type":"quantitative","title":null,"scale":{"domain":[0.232,0.32895],"nice":false,"zero":false}},"y2":{"field":"p2"}}},
{"data":{"values":[{"d":-1.97,"p":0.31},{"d":0.14,"p":0.3101},{"d":48.52,"p":0.2508},{"d":51.06,"p":0.2513}]},
 "mark":{"type":"point","shape":"cross","filled":true,"size":150,"color":"#5a4fa8","opacity":0.85},
 "encoding":{"x":{"field":"d","type":"quantitative","scale":{"domain":[-3.88,64.74],"nice":false,"zero":false},"axis":null},
 "y":{"field":"p","type":"quantitative","title":null,"scale":{"domain":[0.232,0.32895],"nice":false,"zero":false}}}},
{"data":{"values":[{"d":10.72,"p":0.3252},{"d":11.71,"p":0.3252},{"d":4.09,"p":0.32085},{"d":5.08,"p":0.32085},{"d":6.07,"p":0.32085}]},
 "mark":{"type":"point","shape":"square","filled":true,"size":110,"color":"#dcdcdc","opacity":1},
 "encoding":{"x":{"field":"d","type":"quantitative","scale":{"domain":[-3.88,64.74],"nice":false,"zero":false},"axis":null},
 "y":{"field":"p","type":"quantitative","title":null,"scale":{"domain":[0.232,0.32895],"nice":false,"zero":false}}}},
{"data":{"values":[{"d":-3.17,"p":0.3252}]},
 "mark":{"type":"point","shape":"square","filled":false,"size":80,"color":"#555","strokeWidth":1,"opacity":1},
 "encoding":{"x":{"field":"d","type":"quantitative","scale":{"domain":[-3.88,64.74],"nice":false,"zero":false},"axis":null},
 "y":{"field":"p","type":"quantitative","title":null,"scale":{"domain":[0.232,0.32895],"nice":false,"zero":false}}}},
{"data":{"values":[{"d":-2.47,"p":0.3252,"t":"ADA/USD, 240, Synthetic"}]},
 "mark":{"type":"text","align":"left","baseline":"middle","font":"Open Sans","fontSize":13,"color":"#333"},
 "encoding":{"x":{"field":"d","type":"quantitative","scale":{"domain":[-3.88,64.74],"nice":false,"zero":false},"axis":null},
 "y":{"field":"p","type":"quantitative","title":null,"scale":{"domain":[0.232,0.32895],"nice":false,"zero":false}},"text":{"field":"t"}}},
{"data":{"values":[{"d":12.69,"p":0.3252,"t":"O0.2450"},{"d":16.64,"p":0.3252,"t":"H0.2455"},{"d":20.45,"p":0.3252,"t":"L0.2441"},{"d":24.26,"p":0.3252,"t":"C0.2443"}]},
 "mark":{"type":"text","align":"left","baseline":"middle","font":"Open Sans","fontSize":13,"color":"#6b2c2c"},
 "encoding":{"x":{"field":"d","type":"quantitative","scale":{"domain":[-3.88,64.74],"nice":false,"zero":false},"axis":null},
 "y":{"field":"p","type":"quantitative","title":null,"scale":{"domain":[0.232,0.32895],"nice":false,"zero":false}},"text":{"field":"t"}}},
{"data":{"values":[{"d":-3.53,"p":0.32085,"t":"EMA Cross (21, 55)"},{"d":7.4,"p":0.32085,"t":"0.2456"},{"d":9.94,"p":0.32085,"t":"0.2478"},{"d":12.62,"p":0.32085,"t":"n/a"},{"d":9.66,"p":0.3252,"t":"▾"},{"d":2.96,"p":0.32085,"t":"▾"}]},
 "mark":{"type":"text","align":"left","baseline":"middle","font":"Open Sans","fontSize":9},
 "encoding":{"x":{"field":"d","type":"quantitative","scale":{"domain":[-3.88,64.74],"nice":false,"zero":false},"axis":null},
 "y":{"field":"p","type":"quantitative","title":null,"scale":{"domain":[0.232,0.32895],"nice":false,"zero":false}},"text":{"field":"t"},
 "color":{"condition":[{"test":"datum.t == '0.2478'","value":"#ff9800"},{"test":"datum.t == 'n/a'","value":"#3a3aa0"},{"test":"datum.t == '0.2456' || datum.t == '▾'","value":"#999999"}],"value":"#555555"}}},
{"data":{"values":[{"d":-3.03,"p":0.2353,"t":"Investing"}]},
 "mark":{"type":"text","align":"left","baseline":"alphabetic","font":"Liberation Sans","fontSize":17,"fontWeight":"bold","color":"#111"},
 "encoding":{"x":{"field":"d","type":"quantitative","scale":{"domain":[-3.88,64.74],"nice":false,"zero":false},"axis":null},
 "y":{"field":"p","type":"quantitative","title":null,"scale":{"domain":[0.232,0.32895],"nice":false,"zero":false}},"text":{"field":"t"}}},
{"data":{"values":[{"d":2.33,"p":0.2353,"t":".com"}]},
 "mark":{"type":"text","align":"left","baseline":"alphabetic","font":"Liberation Sans","fontSize":13,"color":"#222"},
 "encoding":{"x":{"field":"d","type":"quantitative","scale":{"domain":[-3.88,64.74],"nice":false,"zero":false},"axis":null},
 "y":{"field":"p","type":"quantitative","title":null,"scale":{"domain":[0.232,0.32895],"nice":false,"zero":false}},"text":{"field":"t"}}},
{"data":{"name":"pbox"},"mark":{"type":"tick","orient":"horizontal","size":38,"thickness":13,"opacity":1},
 "encoding":{"x":{"datum":66.15,"type":"quantitative","scale":{"domain":[-3.88,64.74],"nice":false,"zero":false},"axis":null},
 "y":{"field":"at","type":"quantitative","title":null,"scale":{"domain":[0.232,0.32895],"nice":false,"zero":false}},
 "color":{"field":"k","type":"nominal","legend":null,"scale":{"domain":["red","teal","orange","grey","blue","green","purple","navy"],"range":["#ff0000","#7fd3df","#ff9800","#9e9e9e","#4f7fe8","#274d1c","#8b1a8b","#1515f5"]}}}},
{"data":{"name":"pbox"},"mark":{"type":"text","align":"center","baseline":"middle","font":"Liberation Sans","fontSize":10},
 "encoding":{"x":{"datum":66.15,"type":"quantitative","scale":{"domain":[-3.88,64.74],"nice":false,"zero":false},"axis":null},
 "y":{"field":"at","type":"quantitative","title":null,"scale":{"domain":[0.232,0.32895],"nice":false,"zero":false}},
 "text":{"field":"t"},
 "color":{"condition":{"test":"datum.k == 'teal'","value":"#1d3b44"},"value":"#ffffff"}}}
]},
{"width":973,"height":223,"view":{"stroke":"#8a8a8a"},
"layer":[
{"data":{"values":[{"a":30,"b":70}]},"mark":{"type":"rect","color":"#f1e4f1"},
 "encoding":{"x":{"datum":-3.88,"type":"quantitative","title":null,"scale":{"domain":[-3.88,64.74],"nice":false,"zero":false}},"x2":{"datum":64.74},
 "y":{"field":"a","type":"quantitative","title":null,"scale":{"domain":[12.45,76.62],"nice":false,"zero":false}},"y2":{"field":"b"}}},
{"data":{"values":[{"r":70},{"r":30}]},"mark":{"type":"rule","color":"#888","strokeWidth":1,"strokeDash":[4,4]},
 "encoding":{"y":{"field":"r","type":"quantitative","title":null,"scale":{"domain":[12.45,76.62],"nice":false,"zero":false}}}},
{"data":{"values":[{"r":50}]},"mark":{"type":"rule","color":"#b4c8dc","strokeWidth":2},
 "encoding":{"y":{"field":"r","type":"quantitative","title":null,"scale":{"domain":[12.45,76.62],"nice":false,"zero":false}}}},
{"data":{"values":[{"r":22.5162}]},"mark":{"type":"rule","color":"#b8e2ea","strokeWidth":2},
 "encoding":{"y":{"field":"r","type":"quantitative","title":null,"scale":{"domain":[12.45,76.62],"nice":false,"zero":false}}}},
{"data":{"values":[{"r":19.0902}]},"mark":{"type":"rule","color":"#ff7070","strokeWidth":2},
 "encoding":{"y":{"field":"r","type":"quantitative","title":null,"scale":{"domain":[12.45,76.62],"nice":false,"zero":false}}}},
{"data":{"name":"rsi"},"mark":{"type":"line","color":"#b060c0","strokeWidth":1},
 "encoding":{"x":{"field":"d","type":"quantitative","title":null,"scale":{"domain":[-3.88,64.74],"nice":false,"zero":false},
  "axis":{"orient":"bottom","values":[0,5,10,15,20,25,31,36,41,46,51,56,61],"labelExpr":"datum.value == 0 ? 'Aug' : datum.value == 31 ? 'Sep' : datum.value == 61 ? 'Oct' : datum.value < 31 ? '' + (datum.value + 1) : '' + (datum.value - 30)","title":null,"grid":false,"domain":false,"tickSize":4,"tickColor":"#888","labelColor":"#555","labelFontSize":10,"labelPadding":2,"labelFont":"Liberation Sans","labelFlush":false}},
 "y":{"field":"r","type":"quantitative","title":null,"scale":{"domain":[12.45,76.62],"nice":false,"zero":false},
  "axis":{"orient":"right","values":[30,40,60,70],"format":".4f","title":null,"grid":false,"labelFont":"Liberation Sans","labelFontSize":10,"labelColor":"#555","tickColor":"#777","tickSize":3,"domain":true,"domainColor":"#666","labelPadding":6}}}},
{"data":{"values":[{"d1":28.28,"d2":58.92,"r1":67.9,"r2":58.8}]},"mark":{"type":"rule","color":"#ff3b3b","strokeWidth":2},
 "encoding":{"x":{"field":"d1","type":"quantitative","title":null,"scale":{"domain":[-3.88,64.74],"nice":false,"zero":false}},"x2":{"field":"d2"},
 "y":{"field":"r1","type":"quantitative","title":null,"scale":{"domain":[12.45,76.62],"nice":false,"zero":false}},"y2":{"field":"r2"}}},
{"data":{"values":[{"d":-3.53,"r":72.88,"t":"RSI (14)"},{"d":-0.49,"r":72.88,"t":"▾"},{"d":3.67,"r":72.88,"t":"42.4779"}]},
 "mark":{"type":"text","align":"left","baseline":"middle","font":"Open Sans","fontSize":9},
 "encoding":{"x":{"field":"d","type":"quantitative","title":null,"scale":{"domain":[-3.88,64.74],"nice":false,"zero":false}},
 "y":{"field":"r","type":"quantitative","title":null,"scale":{"domain":[12.45,76.62],"nice":false,"zero":false}},"text":{"field":"t"},
 "color":{"condition":[{"test":"datum.t == '42.4779'","value":"#9c27b0"},{"test":"datum.t == '▾'","value":"#999999"}],"value":"#555555"}}},
{"data":{"values":[{"d":0.78,"r":72.88},{"d":1.76,"r":72.88},{"d":2.75,"r":72.88}]},
 "mark":{"type":"point","shape":"square","filled":true,"size":110,"color":"#dcdcdc","opacity":1},
 "encoding":{"x":{"field":"d","type":"quantitative","title":null,"scale":{"domain":[-3.88,64.74],"nice":false,"zero":false}},
 "y":{"field":"r","type":"quantitative","title":null,"scale":{"domain":[12.45,76.62],"nice":false,"zero":false}}}},
{"data":{"values":[{"at":75.7,"k":"navy"}]},"mark":{"type":"tick","orient":"horizontal","size":46,"thickness":6,"opacity":1},
 "encoding":{"x":{"datum":66.4,"type":"quantitative","title":null,"scale":{"domain":[-3.88,64.74],"nice":false,"zero":false}},
 "y":{"field":"at","type":"quantitative","title":null,"scale":{"domain":[12.45,76.62],"nice":false,"zero":false}},
 "color":{"field":"k","type":"nominal","legend":null,"scale":{"domain":["red","teal","orange","grey","blue","green","purple","navy"],"range":["#ff0000","#7fd3df","#ff9800","#9e9e9e","#4f7fe8","#274d1c","#8b1a8b","#1515f5"]}}}},
{"data":{"name":"rbox"},"mark":{"type":"tick","orient":"horizontal","size":44,"thickness":13,"opacity":1},
 "encoding":{"x":{"datum":66.4,"type":"quantitative","title":null,"scale":{"domain":[-3.88,64.74],"nice":false,"zero":false}},
 "y":{"field":"at","type":"quantitative","title":null,"scale":{"domain":[12.45,76.62],"nice":false,"zero":false}},
 "color":{"field":"k","type":"nominal","legend":null,"scale":{"domain":["red","teal","orange","grey","blue","green","purple","navy"],"range":["#ff0000","#7fd3df","#ff9800","#9e9e9e","#4f7fe8","#274d1c","#8b1a8b","#1515f5"]}}}},
{"data":{"name":"rbox"},"mark":{"type":"text","align":"center","baseline":"middle","font":"Liberation Sans","fontSize":10},
 "encoding":{"x":{"datum":66.4,"type":"quantitative","title":null,"scale":{"domain":[-3.88,64.74],"nice":false,"zero":false}},
 "y":{"field":"at","type":"quantitative","title":null,"scale":{"domain":[12.45,76.62],"nice":false,"zero":false}},
 "text":{"field":"t"},
 "color":{"condition":{"test":"datum.k == 'teal'","value":"#1d3b44"},"value":"#ffffff"}}}
]}
]
}
